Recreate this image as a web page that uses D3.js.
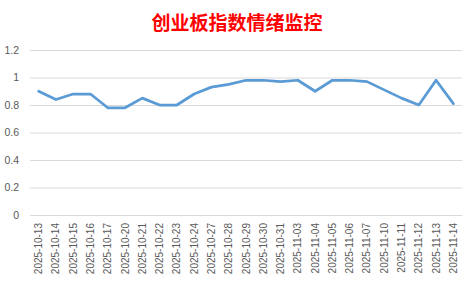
<!DOCTYPE html>
<html>
<head>
<meta charset="utf-8">
<script src="https://cdn.jsdelivr.net/npm/d3@7"></script>
<style>
  body { margin: 0; background: #fff; }
  svg { display: block; }
</style>
</head>
<body>
<div id="chart"></div>
<script>
// data
const dateList = ["2025-10-13", "2025-10-14", "2025-10-15", "2025-10-16", "2025-10-17",
  "2025-10-20", "2025-10-21", "2025-10-22", "2025-10-23", "2025-10-24", "2025-10-27",
  "2025-10-28", "2025-10-29", "2025-10-30", "2025-10-31", "2025-11-03", "2025-11-04",
  "2025-11-05", "2025-11-06", "2025-11-07", "2025-11-10", "2025-11-11", "2025-11-12",
  "2025-11-13", "2025-11-14"];
const sentiment = [0.90, 0.84, 0.88, 0.88, 0.78, 0.78, 0.85, 0.80, 0.80, 0.88, 0.93,
  0.95, 0.98, 0.98, 0.97, 0.98, 0.90, 0.98, 0.98, 0.97, 0.91, 0.85, 0.80, 0.98, 0.81];
const yTicks = [0, 0.2, 0.4, 0.6, 0.8, 1, 1.2];
const title = "创业板指数情绪监控";

const W = 474, H = 287;
const plot = { left: 30, right: 462, top: 50, bottom: 215 };

const svg = d3.select("#chart").append("svg")
  .attr("width", W).attr("height", H);

// scales
const x = d3.scaleBand().domain(dateList).range([plot.left, plot.right]);
const y = d3.scaleLinear().domain([0, 1.2]).range([plot.bottom, plot.top]);

// title
svg.append("text")
  .attr("x", 237).attr("y", 30)
  .attr("text-anchor", "middle")
  .attr("font-family", "'Noto Sans CJK SC', sans-serif")
  .attr("font-weight", "bold")
  .attr("font-size", 19)
  .attr("fill", "#ff0000")
  .text(title);

// horizontal grid + y labels
svg.append("g")
  .attr("transform", `translate(${plot.left},0)`)
  .call(d3.axisLeft(y).tickValues(yTicks).tickSize(-(plot.right - plot.left)).tickPadding(11)
    .tickFormat(d => String(d)))
  .call(g => g.select(".domain").remove())
  .call(g => g.selectAll(".tick line").attr("stroke", "#d9d9d9"))
  .call(g => g.selectAll(".tick text")
    .attr("fill", "#595959")
    .attr("font-size", 10.5)
    .attr("font-family", "'Liberation Sans', Arial, sans-serif"));

// x axis labels
svg.append("g")
  .attr("transform", `translate(0,${plot.bottom})`)
  .call(d3.axisBottom(x).tickSize(0).tickPadding(0))
  .call(g => g.select(".domain").remove())
  .call(g => g.selectAll(".tick text")
    .attr("transform", "rotate(-90)")
    .attr("text-anchor", "end")
    .attr("x", -8).attr("y", 0).attr("dy", "0.35em")
    .attr("fill", "#595959")
    .attr("font-size", 10)
    .attr("font-family", "'Liberation Sans', Arial, sans-serif"));

// line
const line = d3.line()
  .x((d, i) => x(dateList[i]) + x.bandwidth() / 2)
  .y(d => y(d));

svg.append("path")
  .datum(sentiment)
  .attr("fill", "none")
  .attr("stroke", "#5b9bd5")
  .attr("stroke-width", 2.75)
  .attr("stroke-linejoin", "round")
  .attr("stroke-linecap", "round")
  .attr("d", line);
</script>
</body>
</html>
